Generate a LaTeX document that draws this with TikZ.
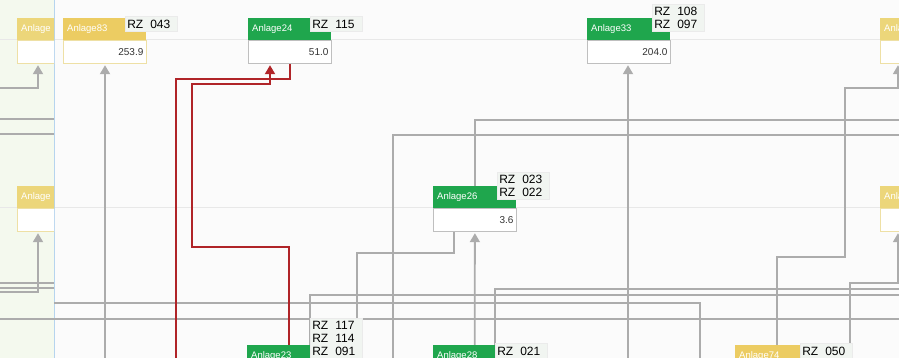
\documentclass[tikz,border=0pt]{standalone}
\usepackage{fontspec}
\setmainfont{Liberation Sans}
\definecolor{PlanGreen}  {RGB}{31,166,77}
\definecolor{PlanYellow} {RGB}{236,204,98}
\definecolor{PanelYellow}{RGB}{236,214,122}
\definecolor{PaleYellow} {RGB}{238,224,165}
\definecolor{LinkGray}   {RGB}{172,172,172}
\definecolor{LinkRed}    {RGB}{176,36,40}
\definecolor{PanelGreen} {RGB}{244,249,238}
\definecolor{PanelBlue}  {RGB}{182,212,238}
\definecolor{RowLine}    {RGB}{232,232,232}
\definecolor{TagFill}    {RGB}{241,245,241}
\definecolor{PageGray}   {RGB}{251,251,251}
\usetikzlibrary{arrows.meta,positioning,backgrounds}

\tikzset{
  hdrbox/.style={anchor=north west,minimum width=83pt,minimum height=22pt,
                 text width=75pt,inner xsep=4pt,inner ysep=0pt,align=left,
                 text=white,font=\fontsize{9.5}{11}\selectfont},
  valbox/.style={anchor=north west,minimum width=83pt,minimum height=23pt,
                 text width=77pt,inner xsep=3pt,inner ysep=0pt,align=right,
                 fill=white,draw=black!25,line width=0.8pt,
                 text=black!80,font=\fontsize{10}{12}\selectfont},
  rztag/.style={anchor=south west,text width=48pt,inner xsep=2pt,inner ysep=0pt,
                minimum height=15pt,align=left,fill=TagFill,draw=black!8,
                line width=0.6pt,font=\fontsize{12}{13}\selectfont},
  grayline/.style={LinkGray,line width=1.8pt},
  redline/.style={LinkRed,line width=2pt},
  intip/.style={-{Triangle[width=10pt,length=9pt]},shorten >=1pt}
}
\newcommand{\rz}[1]{RZ\hspace{7pt}#1}

\begin{document}
\begin{tikzpicture}[x=1pt,y=-1pt]
  \useasboundingbox (0,0) rectangle (899,358);
  \clip (0,0) rectangle (899,358);
  %% page, left panel and row lines
  \begin{pgfonlayer}{background}
    \fill[PageGray] (0,0) rectangle (899,358);
    \fill[PanelGreen] (0,0) rectangle (54,358);
    \draw[RowLine,line width=1pt] (0,40) -- (899,40) (0,208) -- (899,208);
    \draw[PanelBlue,line width=1pt] (54,0) -- (54,358);
  \end{pgfonlayer}

  %% left panel boxes (cut at the panel edge)
  \begin{scope}
    \clip (0,0) rectangle (54,358);
    \node[hdrbox,fill=PanelYellow] (l1h) at (17,18) {Anlage};
    \node[valbox,draw=PaleYellow] (l1) at (l1h.south west) {};
    \node[hdrbox,fill=PanelYellow] (l2h) at (17,186) {Anlage};
    \node[valbox,draw=PaleYellow] (l2) at (l2h.south west) {};
  \end{scope}

  %% top row
  \node[hdrbox,fill=PlanYellow] (a83h) at (63,18) {Anlage83};
  \node[valbox,draw=PaleYellow] (a83) at (a83h.south west) {253.9};
  \node[rztag] (t83) at ([xshift=62pt,yshift=-14pt]a83h.north west) {\rz{043}};

  \node[hdrbox,fill=PlanGreen] (a24h) at (248,18) {Anlage24};
  \node[valbox] (a24) at (a24h.south west) {51.0};
  \node[rztag] (t24) at ([xshift=62pt,yshift=-14pt]a24h.north west) {\rz{115}};

  \node[hdrbox,fill=PlanGreen] (a33h) at (587,18) {Anlage33};
  \node[valbox] (a33) at (a33h.south west) {204.0};
  \node[rztag,minimum height=27pt] (t33)
       at ([xshift=65pt,yshift=-14pt]a33h.north west) {\rz{108}\\\rz{097}};

  \node[hdrbox,fill=PanelYellow] (r1h) at (880,18) {Anlage};
  \node[valbox,draw=PaleYellow] (r1) at (r1h.south west) {};

  %% middle row
  \node[hdrbox,fill=PlanGreen] (a26h) at (433,186) {Anlage26};
  \node[valbox] (a26) at (a26h.south west) {3.6};
  \node[rztag,minimum height=27pt] (t26)
       at ([xshift=64pt,yshift=-14pt]a26h.north west) {\rz{023}\\\rz{022}};

  \node[hdrbox,fill=PanelYellow] (r2h) at (880,186) {Anlage};
  \node[valbox,draw=PaleYellow] (r2) at (r2h.south west) {};

  %% bottom row (cut at the lower edge)
  \node[hdrbox,fill=PlanGreen] (a23h) at (247,345) {Anlage23};
  \node[rztag,minimum height=40pt] (t23)
       at ([xshift=63pt,yshift=-14pt]a23h.north west) {\rz{117}\\\rz{114}\\\rz{091}};
  \node[hdrbox,fill=PlanGreen] (a28h) at (433,345) {Anlage28};
  \node[rztag] (t28) at ([xshift=62pt,yshift=-14pt]a28h.north west) {\rz{021}};
  \node[hdrbox,fill=PlanYellow] (a74h) at (735,345) {Anlage74};
  \node[rztag] (t74) at ([xshift=65pt,yshift=-14pt]a74h.north west) {\rz{050}};

  %% free ends at the edges and bends
  \coordinate (wL88)  at (0,88);
  \coordinate (wL119) at (0,119);  \coordinate (pL119) at (54,119);
  \coordinate (wL134) at (0,134);  \coordinate (pL134) at (54,134);
  \coordinate (wL283) at (0,283);  \coordinate (pL283) at (54,283);
  \coordinate (wL288) at (0,288);  \coordinate (pL288) at (54,288);
  \coordinate (wL292) at (0,292);
  \coordinate (wL319) at (0,319);  \coordinate (pL303) at (54,303);
  \coordinate (wR120) at (899,120);
  \coordinate (wR135) at (899,135);
  \coordinate (wR289) at (899,289);
  \coordinate (wR295) at (899,295);
  \coordinate (wR319) at (899,319);
  \coordinate (wB105) at (105,358);
  \coordinate (wB176) at (176,358);
  \coordinate (wB310) at (310,358);
  \coordinate (wB357) at (357,358);
  \coordinate (wB393) at (393,358);
  \coordinate (wB628) at (628,358);
  \coordinate (wB700) at (700,358);
  \coordinate (wB850) at (850,358);
  \coordinate (k38)   at (38,0);
  \coordinate (k454)  at (454,0);
  \coordinate (kR88)  at (898,88);
  \coordinate (kR283) at (898,283);
  \coordinate (k257)  at (845,257);
  \coordinate (k253)  at (357,253);
  \coordinate (k79)   at (176,79);
  \coordinate (k247)  at (192,247);
  \coordinate (k84)   at (270,84);
  \coordinate (kA28)  at ([xshift=62pt]a28h.north west);

  %% connectors, behind the boxes
  \begin{pgfonlayer}{background}
    \draw[grayline,intip] (wL88) -| (l1.south -| k38);
    \draw[grayline,intip] (wL292) -| (l2.south -| k38);
    \draw[grayline] (wL119) -- (pL119);
    \draw[grayline] (wL134) -- (pL134);
    \draw[grayline] (wL283) -- (pL283);
    \draw[grayline] (wL288) -- (pL288);
    \draw[grayline,intip] (wB105) -- (a83.south -| wB105);
    \draw[grayline,intip] (wB628) -- (a33.south -| wB628);
    \draw[grayline,intip] (a74h.north) |- (k257) -- (k257 |- kR88) -- (kR88)
         -- (r1.south -| kR88);
    \draw[grayline] (a26h.north) |- (wR120);
    \draw[grayline] (wB393) |- (wR135);
    \draw[grayline] (a26.south -| k454) |- (k253) -- (wB357);
    \draw[grayline,intip] (a28h.north) -- (a26.south);
    \draw[grayline] (kA28) |- (wR289);
    \draw[grayline] (wB310) |- (wR295);
    \draw[grayline] (pL303) -| (wB700);
    \draw[grayline] (wL319) -- (wR319);
    \draw[grayline,intip] (wB850) |- (kR283) -- (r2.south -| kR283);
    %% red pair to Anlage24
    \draw[redline] (a24.south) |- (k79) -- (wB176);
    \draw[redline,intip] (a23h.north) |- (k247) |- (k84) -- (k84 |- a24.south);
  \end{pgfonlayer}
\end{tikzpicture}
\end{document}
